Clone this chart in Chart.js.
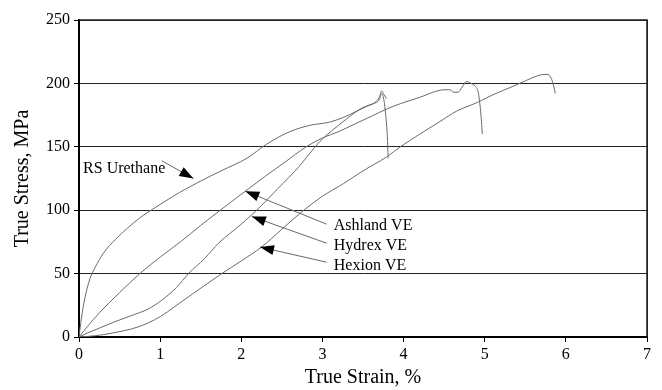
<!DOCTYPE html>
<html>
<head>
<meta charset="utf-8">
<script src="https://cdn.jsdelivr.net/npm/chart.js@4/dist/chart.umd.min.js"></script>
<style>
  html, body { margin: 0; padding: 0; background: #fff; }
  #wrap { width: 662px; height: 390px; }
</style>
</head>
<body>
<div id="wrap"><canvas id="myChart" width="662" height="390"></canvas></div>
<script>
// Series names
const seriesNames = ['RS Urethane', 'Ashland VE', 'Hydrex VE', 'Hexion VE'];

// RS Urethane (strain %, stress MPa)
const rsStrain = [0, 0.03, 0.07, 0.13, 0.2, 0.3, 0.45, 0.6, 0.75, 0.9, 1.06, 1.24, 1.5, 1.75, 2.07, 2.31, 2.6, 2.85, 3.09, 3.25, 3.42, 3.55, 3.65, 3.7, 3.73, 3.76, 3.79];
const rsStress = [0, 15, 30, 45, 55, 66, 77, 86, 94, 100.5, 107, 114, 123, 131, 141, 152, 162, 167, 169.5, 173, 178, 182, 185, 189, 194, 191, 188];

// Ashland VE
const ashStrain = [0, 0.1, 0.25, 0.5, 0.75, 1.0, 1.25, 1.5, 1.74, 2.05, 2.3, 2.54, 2.8, 3.0, 3.2, 3.4, 3.6, 3.8, 3.96, 4.2, 4.41, 4.5, 4.57, 4.62, 4.67, 4.72, 4.78, 4.83, 4.88, 4.92, 4.94, 4.96, 4.97];
const ashStress = [0, 8, 19, 35, 50, 63, 75, 88, 100, 115, 127, 138, 150, 157, 162, 168, 174, 180, 184, 189, 194, 195, 195, 193, 193, 197, 201.5, 200, 198, 193, 184, 170, 160];

// Hydrex VE
const hydStrain = [0, 0.1, 0.25, 0.44, 0.65, 0.85, 1.02, 1.2, 1.35, 1.55, 1.72, 2.0, 2.19, 2.45, 2.72, 2.91, 3.03, 3.2, 3.4, 3.5, 3.62, 3.7, 3.73, 3.76, 3.78, 3.8, 3.81];
const hydStress = [0, 3, 7, 12, 17, 22, 29, 39, 50, 62, 74, 89, 100, 117, 135, 150, 158, 167, 177, 181, 184, 187, 192, 186, 175, 158, 141];

// Hexion VE
const hexStrain = [0, 0.2, 0.4, 0.73, 1.0, 1.18, 1.4, 1.76, 2.0, 2.25, 2.5, 2.77, 3.0, 3.26, 3.5, 3.79, 3.96, 4.2, 4.45, 4.65, 4.91, 5.1, 5.36, 5.5, 5.65, 5.72, 5.78, 5.82, 5.85, 5.87];
const hexStress = [0, 1, 3, 8, 16, 24, 34, 50, 60, 71, 85, 100, 111, 121, 131, 142, 150, 160, 170, 178, 185, 191, 198, 202, 206, 207, 207, 204, 198, 192];

// Label callouts (data units): text anchor, arrow start, arrow tip
const labelAt   = [[0.05, 133], [3.14, 88], [3.14, 72], [3.14, 56]];
const arrowFrom = [[1.02, 139], [3.05, 89], [3.05, 74], [3.05, 59]];
const arrowTo   = [[1.41, 125], [2.05, 115], [2.13, 95], [2.23, 71]];

function toPoints(xs, ys) {
    return xs.map((x, i) => ({ x: x, y: ys[i] }));
}

const allStrain = [rsStrain, ashStrain, hydStrain, hexStrain];
const allStress = [rsStress, ashStress, hydStress, hexStress];

const FONT = "'Liberation Serif', 'Times New Roman', serif";

// draws the text labels and arrows
const calloutPlugin = {
    id: 'callouts',
    afterDatasetsDraw(chart) {
        const ctx = chart.ctx;
        const xs = chart.scales.x, ys = chart.scales.y;
        ctx.save();
        ctx.font = '16px ' + FONT;
        ctx.fillStyle = '#000';
        ctx.textBaseline = 'middle';
        ctx.textAlign = 'left';
        for (let i = 0; i < seriesNames.length; i++) {
            ctx.fillText(seriesNames[i], xs.getPixelForValue(labelAt[i][0]), ys.getPixelForValue(labelAt[i][1]));

            const x1 = xs.getPixelForValue(arrowFrom[i][0]), y1 = ys.getPixelForValue(arrowFrom[i][1]);
            const x2 = xs.getPixelForValue(arrowTo[i][0]), y2 = ys.getPixelForValue(arrowTo[i][1]);
            ctx.strokeStyle = '#666';
            ctx.lineWidth = 1;
            ctx.beginPath();
            ctx.moveTo(x1, y1);
            ctx.lineTo(x2, y2);
            ctx.stroke();

            // arrow head
            const ang = Math.atan2(y2 - y1, x2 - x1);
            const len = 14, half = 5;
            const bx = x2 - len * Math.cos(ang), by = y2 - len * Math.sin(ang);
            ctx.beginPath();
            ctx.moveTo(x2, y2);
            ctx.lineTo(bx + half * Math.sin(ang), by - half * Math.cos(ang));
            ctx.lineTo(bx - half * Math.sin(ang), by + half * Math.cos(ang));
            ctx.closePath();
            ctx.fill();
        }
        // top and right frame of plot area
        const a = chart.chartArea;
        ctx.strokeStyle = '#222';
        ctx.lineWidth = 1.5;
        ctx.beginPath();
        ctx.moveTo(a.left, a.top);
        ctx.lineTo(a.right, a.top);
        ctx.lineTo(a.right, a.bottom);
        ctx.stroke();
        ctx.restore();
    }
};

const ctx = document.getElementById('myChart').getContext('2d');
const myChart = new Chart(ctx, {
    type: 'scatter',
    data: {
        datasets: seriesNames.map((name, i) => ({
            label: name,
            data: toPoints(allStrain[i], allStress[i]),
            showLine: true,
            borderColor: '#6a6a6a',
            borderWidth: 1,
            pointRadius: 0,
            cubicInterpolationMode: 'monotone',
            fill: false
        }))
    },
    options: {
        responsive: false,
        animation: false,
        layout: { padding: { top: 20, right: 15, left: 0, bottom: 0 } },
        plugins: {
            legend: { display: false },
            tooltip: { enabled: false }
        },
        scales: {
            x: {
                type: 'linear',
                min: 0,
                max: 7,
                afterFit(scale) { scale.height = 53; },
                ticks: {
                    stepSize: 1,
                    color: '#000',
                    padding: 3,
                    font: { family: FONT, size: 16 }
                },
                grid: {
                    color: c => (c.tick && c.tick.value === 7 ? '#222' : 'rgba(0,0,0,0)'),
                    tickColor: '#000',
                    tickLength: 5
                },
                border: { color: '#000', width: 2 },
                title: {
                    display: true,
                    text: 'True Strain, %',
                    color: '#000',
                    font: { family: FONT, size: 20 },
                    padding: { top: 0, bottom: 0 }
                }
            },
            y: {
                min: 0,
                max: 250,
                afterFit(scale) { scale.width = 79; },
                ticks: {
                    stepSize: 50,
                    color: '#000',
                    padding: 4,
                    font: { family: FONT, size: 16 }
                },
                grid: {
                    color: '#222',
                    tickColor: '#000',
                    tickLength: 5
                },
                border: { color: '#000', width: 2 },
                title: {
                    display: true,
                    text: 'True Stress, MPa',
                    color: '#000',
                    font: { family: FONT, size: 20 },
                    padding: { top: 11, bottom: 0 }
                }
            }
        }
    },
    plugins: [calloutPlugin]
});
</script>
</body>
</html>
